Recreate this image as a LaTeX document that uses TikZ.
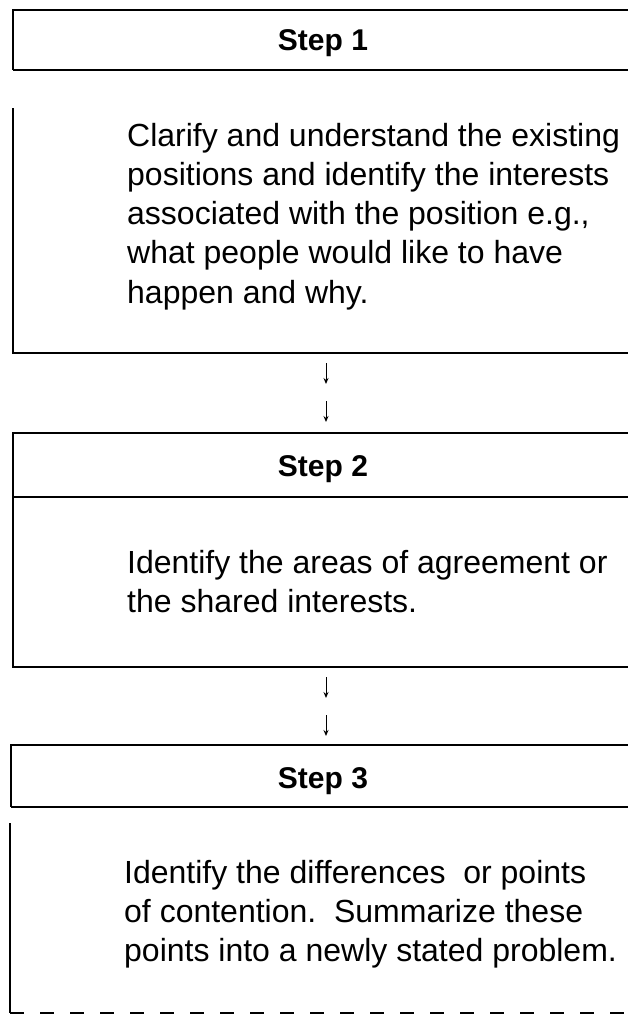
\documentclass[tikz,border=0pt]{standalone}
\usepackage{fontspec}
\setmainfont{Liberation Sans}
\usetikzlibrary{arrows.meta}
\begin{document}
\begin{tikzpicture}[x=1pt,y=-1pt,
  frame/.style={line width=2.2pt},
  flow/.style={line width=1pt,-{Stealth[length=6pt,width=5pt]}},
  steplabel/.style={font=\bfseries\fontsize{30}{36}\selectfont, anchor=base, inner sep=0pt},
  bodytext/.style={font=\fontsize{32}{39.3}\selectfont, anchor=base west, inner sep=0pt}]
\useasboundingbox (0,0) rectangle (628,1015);

% ---------- Step 1 ----------
\draw[frame] (628,10) -- (13,10) -- (13,70);
\draw[frame] (13,70) -- (628,70);
\node[steplabel] (s1) at (323,50) {Step 1};
\draw[frame] (13,108) -- (13,353) -- (628,353);
\node[bodytext] (b1) at (127,146) {\vtop{\hbox{Clarify and understand the existing}\hbox{positions and identify the interests}\hbox{associated with the position e.g.,}\hbox{what people would like to have}\hbox{happen and why.}}};

% arrows 1 -> 2
\coordinate (a1s) at (326,363);
\coordinate (a1e) at (326,384);
\coordinate (a2s) at (326,401);
\coordinate (a2e) at (326,422);
\draw[flow] (a1s) -- (a1e);
\draw[flow] (a2s) -- (a2e);

% ---------- Step 2 ----------
\draw[frame] (628,433) -- (13,433) -- (13,667) -- (628,667);
\draw[frame] (13,497) -- (628,497);
\node[steplabel] (s2) at (323,476) {Step 2};
\node[bodytext] (b2) at (127,573) {\vtop{\hbox{Identify the areas of agreement or}\hbox{the shared interests.}}};

% arrows 2 -> 3
\coordinate (a3s) at (326,677);
\coordinate (a3e) at (326,698);
\coordinate (a4s) at (326,715);
\coordinate (a4e) at (326,736);
\draw[flow] (a3s) -- (a3e);
\draw[flow] (a4s) -- (a4e);

% ---------- Step 3 ----------
\draw[frame] (628,745) -- (11,745) -- (11,807);
\draw[frame] (11,807) -- (628,807);
\node[steplabel] (s3) at (323,788) {Step 3};
\draw[frame] (10,823) -- (10,1013);
\draw[frame, dash pattern=on 14pt off 16pt] (10,1013) -- (628,1013);
\node[bodytext] (b3) at (124,883) {\vtop{\hbox{Identify the differences\ \ or points}\hbox{of contention.\ \ Summarize these}\hbox{points into a newly stated problem.}}};
\end{tikzpicture}
\end{document}
